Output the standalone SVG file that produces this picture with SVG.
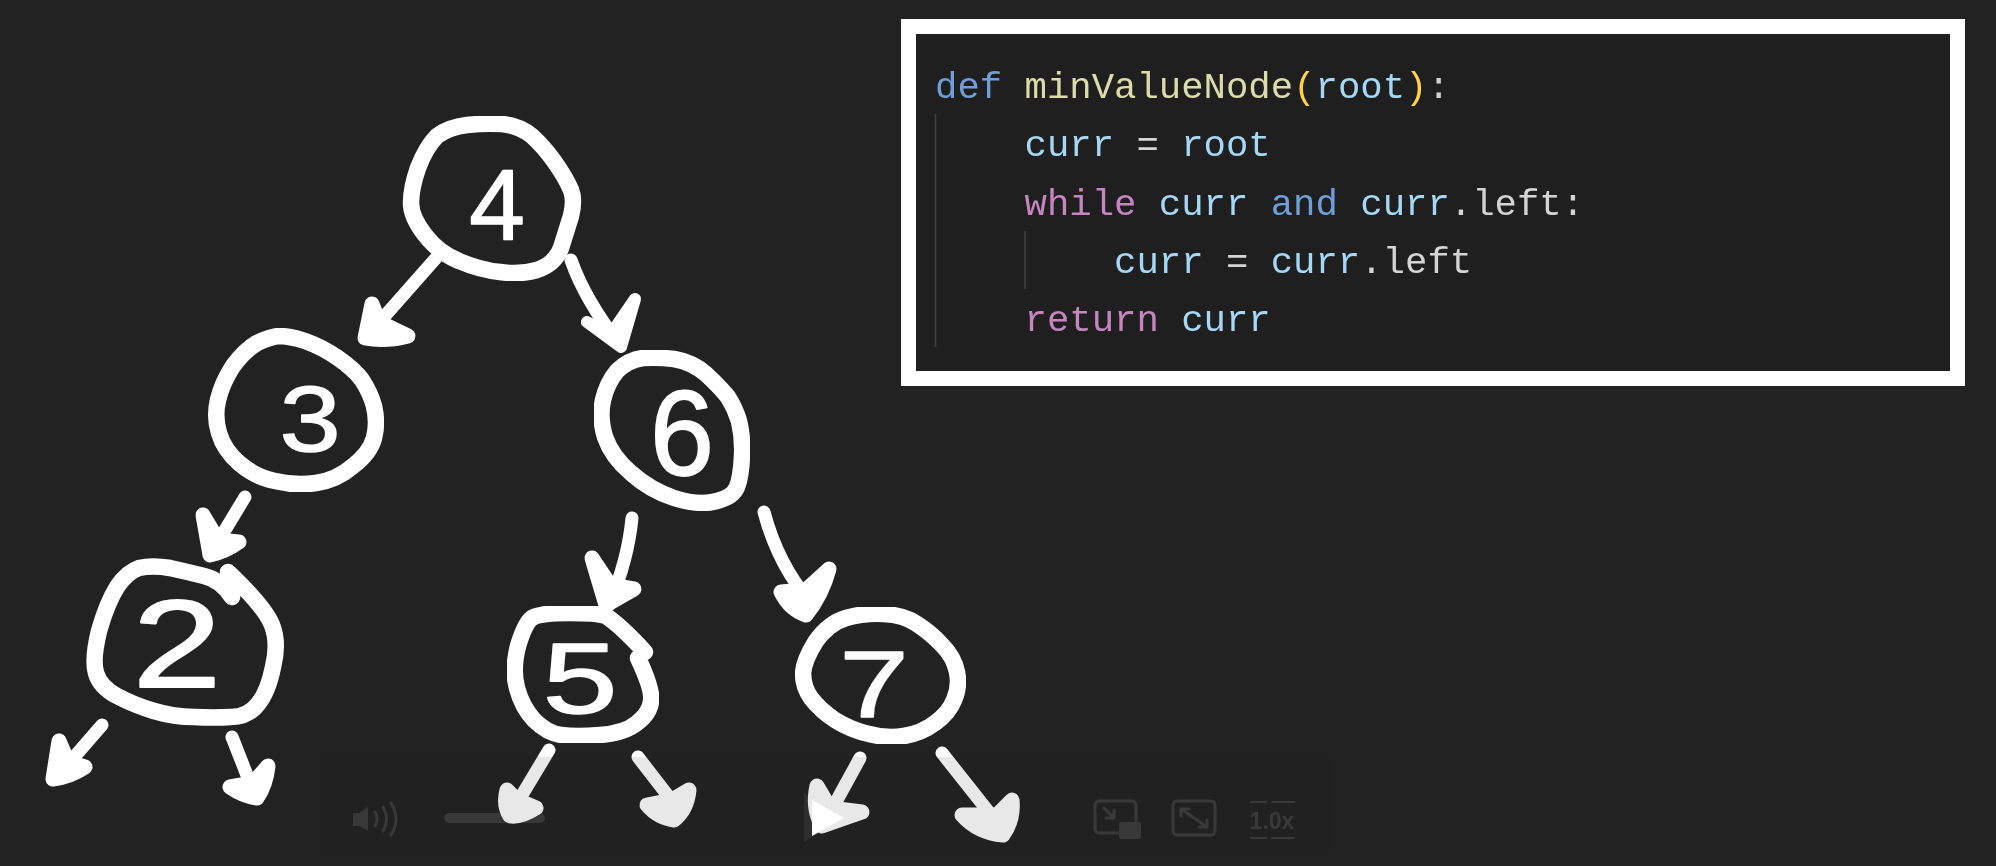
<svg xmlns="http://www.w3.org/2000/svg" width="1996" height="866" viewBox="0 0 1996 866">
<defs><filter id="soft" x="-5%" y="-5%" width="110%" height="110%"><feGaussianBlur stdDeviation="0.7"/></filter></defs>
<style>
.ring{fill:none;stroke:#fff;stroke-width:16.5;stroke-linecap:round;stroke-linejoin:round}
.digit{font-family:"Liberation Sans",Arial,sans-serif;font-size:100px;fill:#fff;stroke:#fff;stroke-width:1.5;stroke-linejoin:round;text-anchor:middle}
.shaft{fill:none;stroke:#fff;stroke-width:13;stroke-linecap:round;stroke-linejoin:round}
.head{fill:#fff;stroke:#fff;stroke-width:15;stroke-linejoin:round}
.code{font-family:"Liberation Mono","DejaVu Sans Mono",monospace;font-size:37.3px;fill:#a5d8f5;stroke:currentColor;stroke-width:0;white-space:pre}
.kw{fill:#6f9fd8}.fn{fill:#dcdcaa}.br{fill:#ffd24a}.pu{fill:#d4d4d4}.ct{fill:#c586c0}
.guide{stroke:#404040;stroke-width:1.5}
.ctl{fill:none;stroke:#3c3c3c;stroke-width:3;stroke-linecap:round;stroke-linejoin:round}
.ctf{fill:#3a3a3a}
</style>
<rect width="1996" height="866" fill="#222222"/>
<g id="player-controls-back" filter="url(#soft)">
<path class="ctf" d="M353,813h6l9,-6v24l-9,-5h-6z"/>
<path class="ctl" d="M375,812q4,7 0,14M383,807q7,12 0,24M391,803q10,16 0,32"/>
<rect class="ctf" x="444" y="813" width="101" height="10" rx="5"/>
<path d="M804,793V842L844,818Z" fill="#333"/>
<rect class="ctl" x="1095" y="801" width="41" height="32" rx="4"/>
<rect class="ctf" x="1119" y="822" width="22" height="17" rx="2"/>
<path class="ctl" d="M1104,808l10,10M1114,810v8h-8"/>
<rect class="ctl" x="1173" y="801" width="42" height="34" rx="4"/>
<path class="ctl" d="M1181,809l26,18M1181,816v-7h8M1207,820v7h-8"/>
<path class="ctl" stroke-dasharray="none" style="stroke-width:2" d="M1251,802h15M1272,802h22M1251,838h15M1272,838h22"/>
<text x="1272" y="829" font-family="'Liberation Sans',Arial,sans-serif" font-size="23" font-weight="700" fill="#3c3c3c" text-anchor="middle">1.0x</text>
</g>
<g id="connectors" filter="url(#soft)">
<g><path class="shaft" d="M436,258L368,335"/><path class="head" d="M372,304L379,322L408,336Q385,342 365,338Z"/></g>
<g><path class="shaft" d="M571,260Q585,300 620,345"/><path class="head" style="stroke-width:12" d="M635,299L611,334L587,322L621,347Z"/></g>
<g><path class="shaft" d="M245,497L210,555"/><path class="head" d="M203,515L218,540L239,542Q225,552 210,555Z"/></g>
<g><path class="shaft" d="M102,725L56,778"/><path class="head" d="M59,741L68,762L85,767Q70,777 53,779Z"/></g>
<g><path class="shaft" d="M232,737L254,793"/><path class="head" d="M268,766L253,783L230,787Q243,796 257,798Q266,785 268,766Z"/></g>
<g><path class="shaft" d="M632,518Q628,560 609,605"/><path class="head" d="M592,558L610,585L634,589L606,605Z"/></g>
<g><path class="shaft" d="M764,512Q778,565 811,603"/><path class="head" d="M829,569L806,590L781,592Q790,610 806,615Q822,595 829,569Z"/></g>
<g><path class="shaft" d="M549,750L513,810"/><path class="head" d="M507,790L517,800L536,808Q520,818 510,816Q503,805 507,790Z"/></g>
<g><path class="shaft" d="M638,757L679,810"/><path class="head" d="M689,790L672,800L647,805Q658,818 674,820Q687,810 689,790Z"/></g>
<g><path class="shaft" d="M860,758L826,820"/><path class="head" d="M817,786L830,808L862,812L822,826Q812,808 817,786Z"/></g>
<g><path class="shaft" d="M942,753L1003,830"/><path class="head" d="M1012,800L997,815L962,815Q978,833 1003,835Q1014,820 1012,800Z"/></g>
</g>
<g id="node-4" filter="url(#soft)">
<path class="ring" d="M467,125Q485,123 502,124Q520,126 532,136Q544,147 554,161Q566,178 571,190Q575,200 571,216Q566,232 561,248Q555,264 537,270Q520,275 500,272Q480,270 459,261Q439,253 425,235Q411,217 411,203Q411,188 418,168Q426,147 437,136Q449,127 467,125Z"/>
<text class="digit" x="497" y="240">4</text>
</g>
<g id="node-3" filter="url(#soft)">
<path class="ring" d="M278,336Q290,336 305,341Q322,347 338,358Q355,370 362,380Q370,392 374,406Q378,423 374,438Q370,453 353,466Q337,480 316,483Q296,486 275,481Q255,477 239,463Q224,450 219,433Q214,417 218,400Q222,383 233,366Q245,350 257,343Q270,337 278,336Z"/>
<text class="digit" transform="translate(310,451) scale(1.1,.92)">3</text>
</g>
<g id="node-6" filter="url(#soft)">
<path class="ring" d="M643,358Q658,357 674,359Q692,362 706,374Q720,387 728,397Q735,408 739,421Q743,438 742,456Q741,477 737,487Q733,497 717,501Q699,506 674,498Q650,490 631,473Q612,457 605,437Q599,417 603,400Q607,383 617,371Q628,360 643,358Z"/>
<text class="digit" transform="translate(682,475) scale(1.15,1.2)">6</text>
</g>
<g id="node-2" filter="url(#soft)">
<path class="ring" d="M232,597Q221,580 204,576Q188,572 170,568Q152,565 139,568Q127,572 117,587Q107,603 99,631Q92,660 96,673Q100,687 117,696Q134,705 154,711Q174,717 194,717Q214,718 231,717Q248,717 258,704Q268,692 273,667Q279,643 272,625Q265,607 228,572"/>
<text class="digit" transform="translate(177,687) scale(1.6,1.25)">2</text>
</g>
<g id="node-5" filter="url(#soft)">
<path class="ring" d="M645,652Q620,625 606,616Q598,613 569,613Q540,613 532,618Q525,623 518,646Q512,670 517,688Q522,707 534,720Q547,733 561,735Q576,737 600,735Q625,733 637,723Q650,713 651,701Q653,690 638,658"/>
<text class="digit" transform="translate(580,713) scale(1.35,1)">5</text>
</g>
<g id="node-7" filter="url(#soft)">
<path class="ring" d="M846,618Q864,613 884,614Q904,615 917,624Q931,633 942,645Q954,657 957,672Q960,687 954,700Q949,713 935,723Q922,733 904,736Q887,739 869,734Q851,730 835,720Q820,710 811,698Q803,687 803,673Q804,660 816,641Q829,623 846,618Z"/>
<text class="digit" transform="translate(874,717) scale(1.25,.94)">7</text>
</g>
<g id="player-controls-front">
<rect x="321" y="757" width="1012" height="95" rx="8" fill="#222" opacity=".1"/>
<path d="M812,800V836L844,818Z" fill="#fff" filter="url(#soft)"/>
</g>
<g id="code-panel">
<rect x="901" y="19" width="1064" height="367" fill="#fff"/>
<rect x="916" y="34" width="1034" height="337" fill="#1f1f1f"/>
<line class="guide" x1="935.5" y1="114" x2="935.5" y2="347"/>
<line class="guide" x1="1025" y1="231" x2="1025" y2="289"/>
<g filter="url(#soft)">
<text class="code" x="935" y="98" xml:space="preserve"><tspan class="kw">def</tspan> <tspan class="fn">minValueNode</tspan><tspan class="br">(</tspan>root<tspan class="br">)</tspan><tspan class="pu">:</tspan></text>
<text class="code" x="1024.5" y="156" xml:space="preserve">curr <tspan class="pu">=</tspan> root</text>
<text class="code" x="1024.5" y="215" xml:space="preserve"><tspan class="ct">while</tspan> curr <tspan class="kw">and</tspan> curr<tspan class="pu">.left:</tspan></text>
<text class="code" x="1114" y="273" xml:space="preserve">curr <tspan class="pu">=</tspan> curr<tspan class="pu">.left</tspan></text>
<text class="code" x="1024.5" y="331" xml:space="preserve"><tspan class="ct">return</tspan> curr</text>
</g>
</g>
</svg>
